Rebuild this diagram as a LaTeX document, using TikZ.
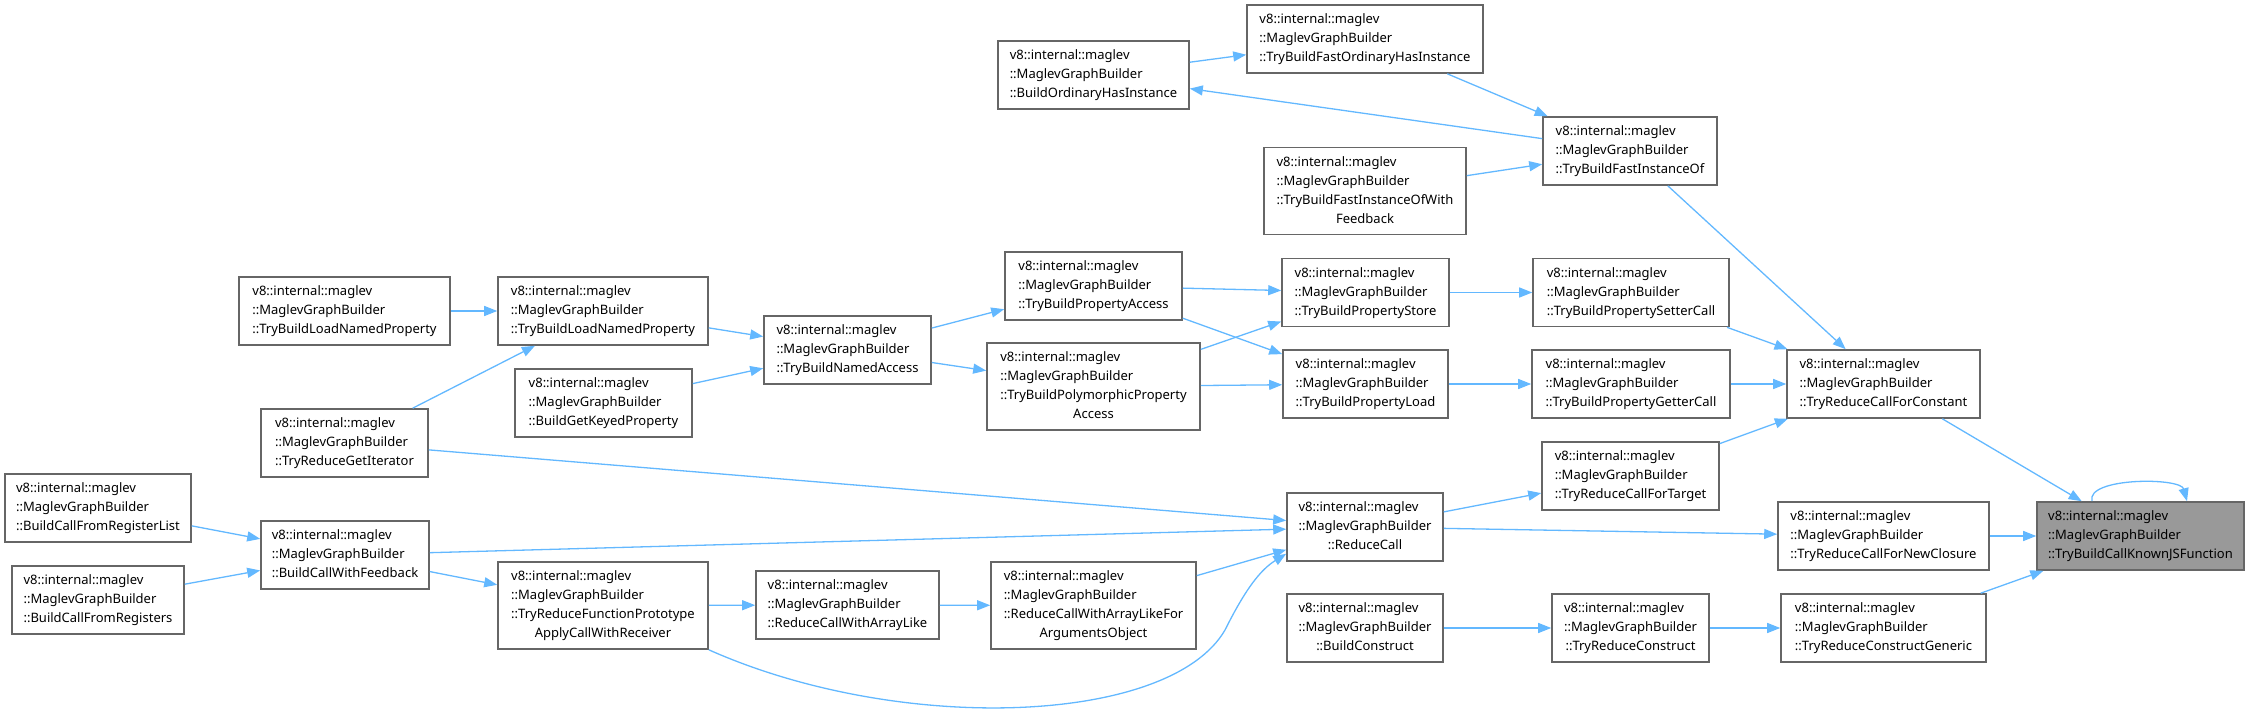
\documentclass[tikz,border=0pt]{standalone}
\usepackage{fontspec}
\setmainfont{Noto Sans}
\usetikzlibrary{arrows.meta}
\definecolor{aristaAzul}{HTML}{63B8FF}
\definecolor{bordeGris}{HTML}{666666}
\definecolor{rellenoGris}{HTML}{999999}
\newcommand{\mgb}[1]{\begin{tabular}{@{}l@{}}v8::internal::maglev\\::MaglevGraphBuilder\\\multicolumn{1}{@{}c@{}}{#1}\end{tabular}}
\newcommand{\mgbb}[2]{\begin{tabular}{@{}l@{}}v8::internal::maglev\\::MaglevGraphBuilder\\#1\\\multicolumn{1}{@{}c@{}}{#2}\end{tabular}}

\begin{document}
\begin{tikzpicture}[x=1pt,y=-1pt,
    fn/.style={draw=bordeGris,line width=1.6pt,fill=white,inner sep=0pt,
      minimum width=#1,minimum height=68pt,font=\fontsize{13}{19}\selectfont},
    alto/.style={minimum height=87pt},
    flecha/.style={draw=aristaAzul,line width=1.3pt,-{Triangle[length=13pt,width=10pt]}}]
    \useasboundingbox (0,0) rectangle (2249,714);
    % nodos
    \node[fn=211pt] (loadA) at (344.5,311) {\mgb{::TryBuildLoadNamedProperty}};
    \node[fn=210pt] (loadB) at (603,311) {\mgb{::TryBuildLoadNamedProperty}};
    \node[fn=177pt] (keyed) at (603.5,403) {\mgb{::BuildGetKeyedProperty}};
    \node[fn=167pt] (getIter) at (344.5,443) {\mgb{::TryReduceGetIterator}};
    \node[fn=186pt] (regList) at (98,508) {\mgb{::BuildCallFromRegisterList}};
    \node[fn=168pt] (callFb) at (345,555) {\mgb{::BuildCallWithFeedback}};
    \node[fn=172pt] (regs) at (98,600) {\mgb{::BuildCallFromRegisters}};
    \node[fn=210pt,alto] (protoApply) at (603,605.5) {\mgbb{::TryReduceFunctionPrototype}{ApplyCallWithReceiver}};
    \node[fn=167pt] (namedAcc) at (847.5,350) {\mgb{::TryBuildNamedAccess}};
    \node[fn=177pt] (propAcc) at (1093.5,286) {\mgb{::TryBuildPropertyAccess}};
    \node[fn=213pt,alto] (polyAcc) at (1093.5,386.5) {\mgbb{::TryBuildPolymorphicProperty}{Access}};
    \node[fn=167pt] (propStore) at (1365.5,292.5) {\mgb{::TryBuildPropertyStore}};
    \node[fn=165pt] (propLoad) at (1365.5,384) {\mgb{::TryBuildPropertyLoad}};
    \node[fn=156pt] (reduceCall) at (1365,527) {\mgb{::ReduceCall}};
    \node[fn=183pt] (arrayLike) at (847.5,605) {\mgb{::ReduceCallWithArrayLike}};
    \node[fn=205pt,alto] (argsObj) at (1093.5,605.5) {\mgbb{::ReduceCallWithArrayLikeFor}{ArgumentsObject}};
    \node[fn=156pt] (buildConstruct) at (1365,628) {\mgb{::BuildConstruct}};
    \node[fn=196pt] (setter) at (1631,292.5) {\mgb{::TryBuildPropertySetterCall}};
    \node[fn=198pt] (getter) at (1631,384) {\mgb{::TryBuildPropertyGetterCall}};
    \node[fn=193pt] (forConst) at (1883.5,384) {\mgb{::TryReduceCallForConstant}};
    \node[fn=177pt] (forTarget) at (1630.5,476) {\mgb{::TryReduceCallForTarget}};
    \node[fn=211pt] (newClosure) at (1883.5,536) {\mgb{::TryReduceCallForNewClosure}};
    \node[fn=207pt,fill=rellenoGris] (known) at (2140.5,536) {\mgb{::TryBuildCallKnownJSFunction}};
    \node[fn=157pt] (reduceConstruct) at (1630.5,628) {\mgb{::TryReduceConstruct}};
    \node[fn=205pt] (constructGeneric) at (1883.5,628) {\mgb{::TryReduceConstructGeneric}};
    \node[fn=191pt] (ordHasInst) at (1093.5,75) {\mgb{::BuildOrdinaryHasInstance}};
    \node[fn=236pt] (fastOrdHas) at (1365,39) {\mgb{::TryBuildFastOrdinaryHasInstance}};
    \node[fn=202pt,alto] (fastInstFb) at (1365,191) {\mgbb{::TryBuildFastInstanceOfWith}{Feedback}};
    \node[fn=174pt] (fastInst) at (1630,151) {\mgb{::TryBuildFastInstanceOf}};
    % aristas
    \draw[flecha] (loadA) -- (loadB);
    \draw[flecha] (getIter) -- (loadB);
    \draw[flecha] (loadB) -- (namedAcc);
    \draw[flecha] (keyed) -- (namedAcc);
    \draw[flecha] (namedAcc) -- (propAcc);
    \draw[flecha] (namedAcc) -- (polyAcc);
    \draw[flecha] (propAcc) -- (propStore);
    \draw[flecha] (propAcc) -- (propLoad);
    \draw[flecha] (polyAcc) -- (propStore);
    \draw[flecha] (polyAcc) -- (propLoad);
    \draw[flecha] (propStore) -- (setter);
    \draw[flecha] (propLoad) -- (getter);
    \draw[flecha] (setter) -- (forConst);
    \draw[flecha] (getter) -- (forConst);
    \draw[flecha] (forTarget) -- (forConst);
    \draw[flecha] (fastInst) -- (forConst);
    \draw[flecha] (forConst) -- (known);
    \draw[flecha] (newClosure) -- (known);
    \draw[flecha] (constructGeneric) -- (known);
    \draw[flecha] ([xshift=-48.5pt]known.north) .. controls ([xshift=-55pt,yshift=24pt]known.north)
      and ([xshift=40pt,yshift=24pt]known.north) .. ([xshift=46.5pt]known.north);
    \draw[flecha] (getIter) -- (reduceCall);
    \draw[flecha] (callFb) -- (reduceCall);
    \draw[flecha] (argsObj) -- (reduceCall);
    \draw[flecha] (protoApply.south east) .. controls (900,735) and (1170,725) .. (1225,630)
      .. controls (1245,590) and (1260,570) .. ([yshift=8pt]reduceCall.south west);
    \draw[flecha] (reduceCall) -- (forTarget);
    \draw[flecha] (reduceCall) -- (newClosure);
    \draw[flecha] (regList) -- (callFb);
    \draw[flecha] (regs) -- (callFb);
    \draw[flecha] (callFb) -- (protoApply);
    \draw[flecha] (protoApply) -- (arrayLike);
    \draw[flecha] (arrayLike) -- (argsObj);
    \draw[flecha] (buildConstruct) -- (reduceConstruct);
    \draw[flecha] (reduceConstruct) -- (constructGeneric);
    \draw[flecha] (ordHasInst) -- (fastOrdHas);
    \draw[flecha] (fastOrdHas) -- (fastInst);
    \draw[flecha] (fastInst) -- (ordHasInst);
    \draw[flecha] (fastInstFb) -- (fastInst);
\end{tikzpicture}
\end{document}
